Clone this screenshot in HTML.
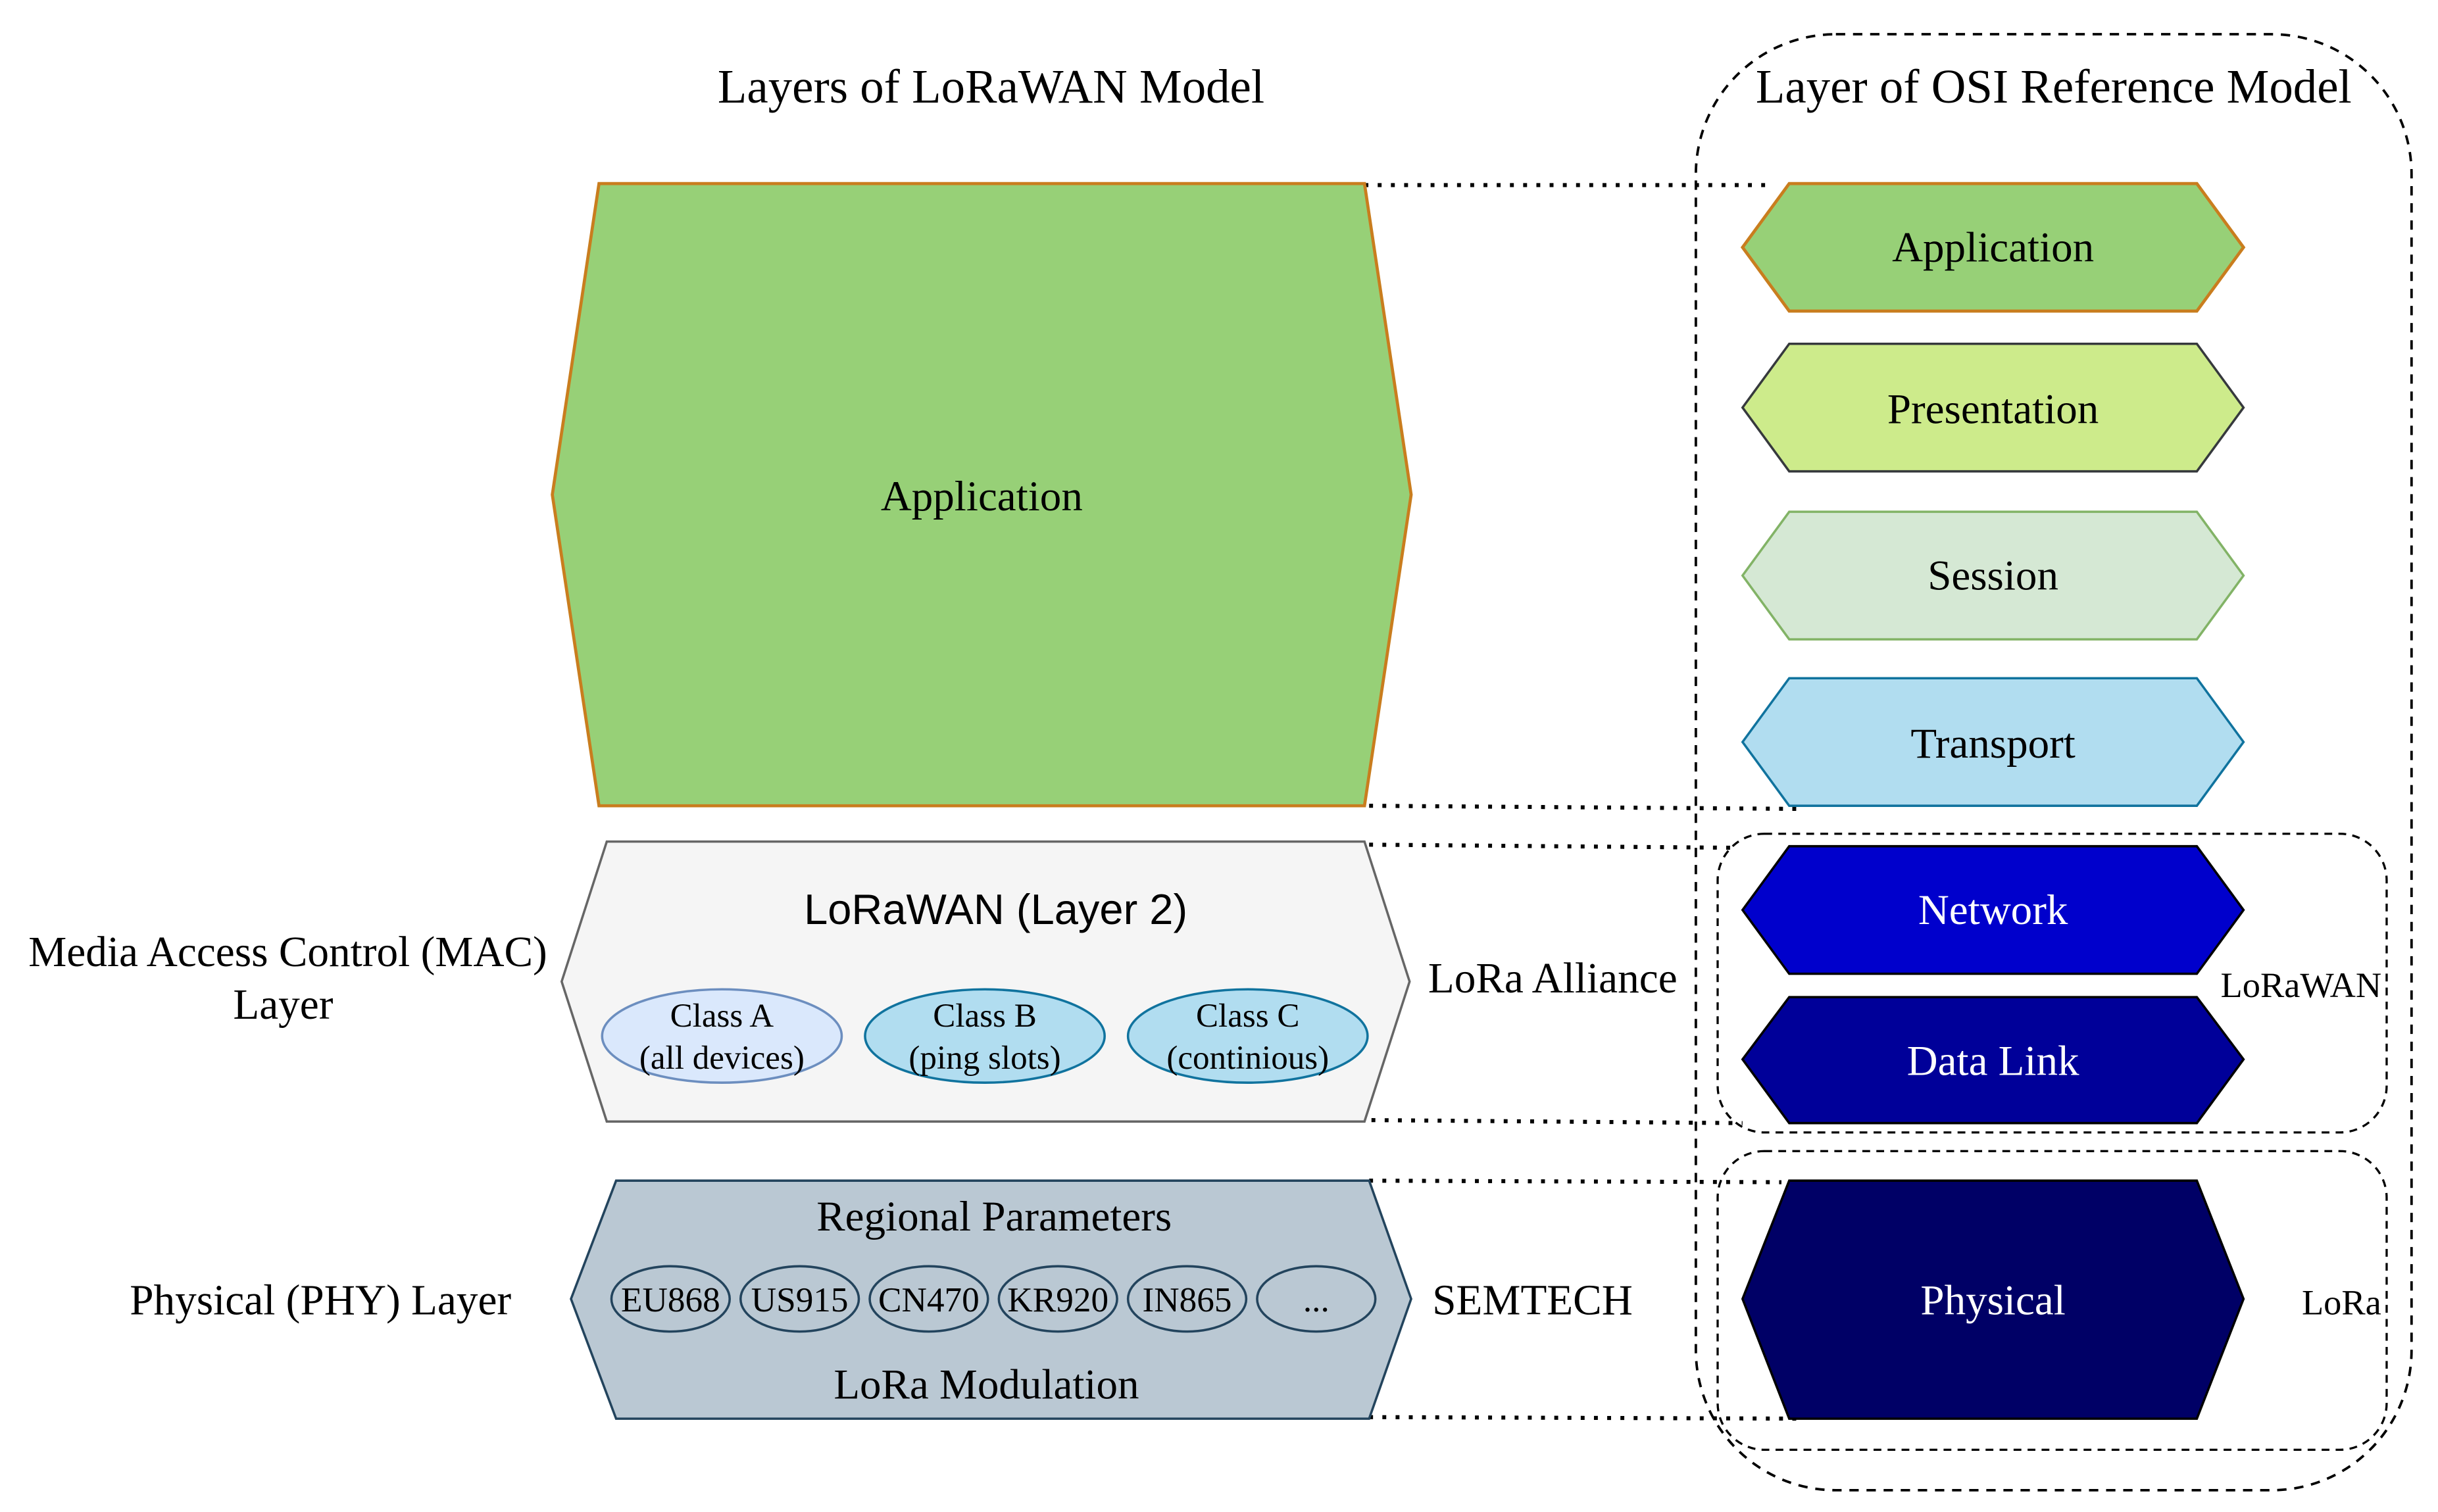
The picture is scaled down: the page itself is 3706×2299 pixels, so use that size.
<!DOCTYPE html>
<html><head><meta charset="utf-8"><style>
html,body{margin:0;padding:0;background:#fff;}
svg{display:block;}
text{font-family:"Liberation Serif",serif;fill:#000;}
</style></head><body>
<svg width="3706" height="2299" viewBox="0 0 1567 972" preserveAspectRatio="none" xmlns="http://www.w3.org/2000/svg">
<rect x="1090" y="22" width="460" height="936" rx="90" ry="90" fill="none" stroke="#000" stroke-width="1.6" stroke-dasharray="6,5"/>
<rect x="1104" y="536" width="430" height="192" rx="30" ry="30" fill="none" stroke="#000" stroke-width="1.4" stroke-dasharray="5,4"/>
<rect x="1104" y="740" width="430" height="192" rx="30" ry="30" fill="none" stroke="#000" stroke-width="1.4" stroke-dasharray="5,4"/>

<g stroke="#000" stroke-width="2.6" stroke-dasharray="2.5,6" fill="none">
<line x1="877" y1="119" x2="1135" y2="119"/>
<line x1="880" y1="518" x2="1155" y2="520"/>
<line x1="880" y1="543" x2="1115" y2="545"/>
<line x1="873" y1="720" x2="1120" y2="722"/>
<line x1="880" y1="759" x2="1145" y2="760"/>
<line x1="880" y1="911" x2="1160" y2="912"/>
</g>

<text x="637" y="66" font-size="30.8" text-anchor="middle">Layers of LoRaWAN Model</text>
<text x="1320" y="66" font-size="30.8" text-anchor="middle">Layer of OSI Reference Model</text>

<polygon points="385,118 877,118 907,318 877,518 385,518 355,318" fill="#97d077" stroke="#c97d1e" stroke-width="2"/>
<text x="631" y="328" font-size="27.5" text-anchor="middle">Application</text>

<polygon points="390,541 877,541 906,631 877,721 390,721 361,631" fill="#f5f5f5" stroke="#666" stroke-width="1.5"/>
<text x="640" y="594" font-size="27.5" text-anchor="middle" style="font-family:'Liberation Sans',sans-serif">LoRaWAN (Layer 2)</text>
<ellipse cx="464" cy="666" rx="77" ry="30" fill="#dae8fc" stroke="#6c8ebf" stroke-width="1.5"/>
<ellipse cx="633" cy="666" rx="77" ry="30" fill="#b1ddf0" stroke="#10739e" stroke-width="1.5"/>
<ellipse cx="802" cy="666" rx="77" ry="30" fill="#b1ddf0" stroke="#10739e" stroke-width="1.5"/>
<g font-size="21.6" text-anchor="middle">
<text x="464" y="660">Class A</text><text x="464" y="687">(all devices)</text>
<text x="633" y="660">Class B</text><text x="633" y="687">(ping slots)</text>
<text x="802" y="660">Class C</text><text x="802" y="687">(continious)</text>
</g>

<polygon points="396,759 880,759 907,835 880,912 396,912 367,835" fill="#bac8d3" stroke="#23445d" stroke-width="1.5"/>
<text x="639" y="791" font-size="27.5" text-anchor="middle">Regional Parameters</text>
<text x="634" y="899" font-size="27.5" text-anchor="middle">LoRa Modulation</text>
<g fill="none" stroke="#23445d" stroke-width="1.5">
<ellipse cx="431" cy="835" rx="38" ry="21"/><ellipse cx="514" cy="835" rx="38" ry="21"/>
<ellipse cx="597" cy="835" rx="38" ry="21"/><ellipse cx="680" cy="835" rx="38" ry="21"/>
<ellipse cx="763" cy="835" rx="38" ry="21"/><ellipse cx="846" cy="835" rx="38" ry="21"/>
</g>
<g font-size="22.5" text-anchor="middle">
<text x="431" y="843">EU868</text><text x="514" y="843">US915</text><text x="597" y="843">CN470</text>
<text x="680" y="843">KR920</text><text x="763" y="843">IN865</text><text x="846" y="843">...</text>
</g>

<g font-size="27.6" text-anchor="middle">
<text x="185" y="621">Media Access Control (MAC)</text>
<text x="182" y="655">Layer</text>
<text x="206" y="845">Physical (PHY) Layer</text>
<text x="998" y="638">LoRa Alliance</text>
<text x="985" y="845">SEMTECH</text>
</g>
<text x="1479" y="641" font-size="23" text-anchor="middle">LoRaWAN</text>
<text x="1505" y="845" font-size="23" text-anchor="middle">LoRa</text>

<g font-size="27.5" text-anchor="middle">
<polygon points="1150,118 1412,118 1442,159 1412,200 1150,200 1120,159" fill="#97d077" stroke="#c97d1e" stroke-width="2"/>
<text x="1281" y="168">Application</text>
<polygon points="1150,221 1412,221 1442,262 1412,303 1150,303 1120,262" fill="#cdeb8b" stroke="#36393d" stroke-width="1.5"/>
<text x="1281" y="272">Presentation</text>
<polygon points="1150,329 1412,329 1442,370 1412,411 1150,411 1120,370" fill="#d5e8d4" stroke="#82b366" stroke-width="1.5"/>
<text x="1281" y="379">Session</text>
<polygon points="1150,436 1412,436 1442,477 1412,518 1150,518 1120,477" fill="#b1ddf0" stroke="#10739e" stroke-width="1.5"/>
<text x="1281" y="487">Transport</text>
<polygon points="1150,544 1412,544 1442,585 1412,626 1150,626 1120,585" fill="#0000cc" stroke="#000" stroke-width="1.5"/>
<text x="1281" y="594" style="fill:#fff">Network</text>
<polygon points="1150,641 1412,641 1442,681 1412,722 1150,722 1120,681" fill="#000099" stroke="#000" stroke-width="1.5"/>
<text x="1281" y="691" style="fill:#fff">Data Link</text>
<polygon points="1150,759 1412,759 1442,835 1412,912 1150,912 1120,835" fill="#000066" stroke="#000" stroke-width="1.5"/>
<text x="1281" y="845" style="fill:#fff">Physical</text>
</g>
</svg>
</body></html>
